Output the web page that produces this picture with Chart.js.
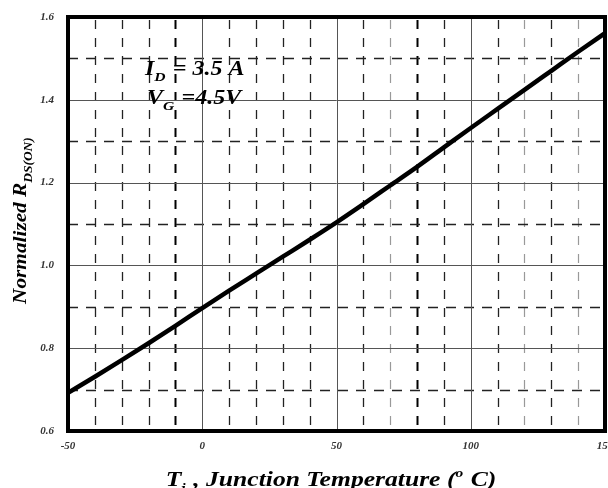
<!DOCTYPE html>
<html><head><meta charset="utf-8">
<script src="https://cdn.jsdelivr.net/npm/chart.js@4/dist/chart.umd.min.js"></script>
<style>html,body{margin:0;padding:0;background:#fff}#wrap{width:608px;height:488px}</style>
</head><body><div id="wrap"><canvas id="c" width="608" height="488"></canvas></div>
<script>
const temps = [-50,-40,-30,-20,-10,0,10,20,30,40,50,60,70,80,90,100,110,120,130,140,150];
const rdson = [0.692,0.731,0.771,0.812,0.854,0.897,0.939,0.980,1.021,1.062,1.104,1.148,1.193,1.238,1.285,1.332,1.378,1.424,1.470,1.516,1.561];
const xMajor = [0,50,100];
const xMinor = [-40,-30,-20,-10,10,20,30,40,60,70,80,90,110,120,130,140];
const yMajor = [0.8,1.0,1.2,1.4];
const yMinor = [0.7,0.9,1.1,1.3,1.5];
const xTitle = ['T','j',' , Junction Temperature (','o',' C)'];
const yTitle = ['Normalized R','DS(ON)'];
const note1 = ['I','D',' = 3.5 A'];
const note2 = ['V','G',' =4.5V'];

const SERIF = 'Liberation Serif';

const gridPlugin = {
  id:'gridPlugin',
  beforeDatasetsDraw(chart){
    const {ctx, chartArea:a, scales:{x,y}} = chart;
    ctx.save();
    xMinor.forEach(v=>{
      const px = Math.round(x.getPixelForValue(v))+0.5;
      let col='#222', w=1.3;
      if (v===-10||v===80){col='#000'; w=2;}
      if (v===70||v===120||v===140){col='#999'; w=1.2;}
      ctx.strokeStyle=col; ctx.lineWidth=w; ctx.setLineDash([9,9]); ctx.lineDashOffset=-3;
      ctx.beginPath(); ctx.moveTo(px,a.top); ctx.lineTo(px,a.bottom); ctx.stroke();
    });
    yMinor.forEach(v=>{
      const py = Math.round(y.getPixelForValue(v))+0.5;
      ctx.strokeStyle='#222'; ctx.lineWidth=1.4; ctx.setLineDash([10,8]); ctx.lineDashOffset=0;
      ctx.beginPath(); ctx.moveTo(a.left,py); ctx.lineTo(a.right,py); ctx.stroke();
    });
    ctx.setLineDash([]);
    xMajor.forEach(v=>{
      const px = Math.round(x.getPixelForValue(v))+0.5;
      ctx.strokeStyle='#555'; ctx.lineWidth=1;
      ctx.beginPath(); ctx.moveTo(px,a.top); ctx.lineTo(px,a.bottom); ctx.stroke();
    });
    yMajor.forEach(v=>{
      const py = Math.round(y.getPixelForValue(v))+0.5;
      ctx.strokeStyle='#555'; ctx.lineWidth=1;
      ctx.beginPath(); ctx.moveTo(a.left,py); ctx.lineTo(a.right,py); ctx.stroke();
    });
    ctx.restore();
  },
  afterDraw(chart){
    const {ctx, chartArea:a} = chart;
    ctx.save();
    ctx.strokeStyle='#000'; ctx.lineWidth=4; ctx.setLineDash([]);
    ctx.strokeRect(a.left, a.top, a.right-a.left, a.bottom-a.top);
    ctx.fillStyle='#000';
    ctx.textBaseline='alphabetic';
    function measure(parts, big, small, kinds){
      let w=0; parts.forEach((p,i)=>{ctx.font=`italic bold ${kinds[i]==='n'?big:small}px "${SERIF}"`; w+=ctx.measureText(p).width+(kinds[i]!=='n'?1:0);}); return w;
    }
    function subText(parts, x0, yb, big, small, kinds, sx){
      ctx.save();
      ctx.translate(x0, yb); ctx.scale(sx,1);
      let xx = 0;
      parts.forEach((p,i)=>{
        const k = kinds[i];
        const sz = k==='n'?big:small;
        ctx.font = `italic bold ${sz}px "${SERIF}"`;
        const dy = k==='sub'? big*0.3 : (k==='sup'? -big*0.45 : 0);
        ctx.fillText(p, xx, dy);
        xx += ctx.measureText(p).width + (k!=='n'?1:0);
      });
      ctx.restore();
    }
    // annotations
    subText(note1, 145, 75, 20, 13, ['n','sub','n'], 1.2);
    subText(note2, 147, 104, 20, 13, ['n','sub','n'], 1.2);
    // x title
    const xk=['n','sub','n','sup','n'];
    const xs = 1.28;
    const xw = measure(xTitle, 20, 12, xk)*xs;
    subText(xTitle, 331 - xw/2, 486, 20, 12, xk, xs);
    // y title
    const yk=['n','sub'];
    const ys = 1.12;
    const yw = measure(yTitle, 19, 12, yk)*ys;
    ctx.translate(26, 220); ctx.rotate(-Math.PI/2);
    subText(yTitle, -yw/2, 0, 19, 12, yk, ys);
    ctx.restore();
  }
};

new Chart(document.getElementById('c'), {
  type:'line',
  data:{ datasets:[{
    data: temps.map((t,i)=>({x:t,y:rdson[i]})),
    borderColor:'#000', borderWidth:4.5, pointRadius:0, cubicInterpolationMode:'monotone', fill:false
  }]},
  options:{
    responsive:false, animation:false, devicePixelRatio:1,
    layout:{padding:{left:0,top:17,right:3,bottom:0}},
    plugins:{legend:{display:false}, tooltip:{enabled:false}},
    scales:{
      x:{type:'linear', min:-50, max:150,
        grid:{display:false, drawTicks:false}, border:{display:false},
        ticks:{stepSize:50, padding:9, color:'#333', maxRotation:0, autoSkip:false,
          font:{family:SERIF, style:'italic', weight:'bold', size:11}},
        afterFit(s){ s.height = 57; s.paddingLeft=0; s.paddingRight=0; }
      },
      y:{type:'linear', min:0.6, max:1.6,
        grid:{display:false, drawTicks:false}, border:{display:false},
        ticks:{stepSize:0.2, padding:14, color:'#333',
          callback:v=>Number(v).toFixed(1),
          font:{family:SERIF, style:'italic', weight:'bold', size:11}},
        afterFit(s){ s.width = 68; s.paddingTop=0; s.paddingBottom=0; }
      }
    }
  },
  plugins:[gridPlugin]
});
</script></body></html>
